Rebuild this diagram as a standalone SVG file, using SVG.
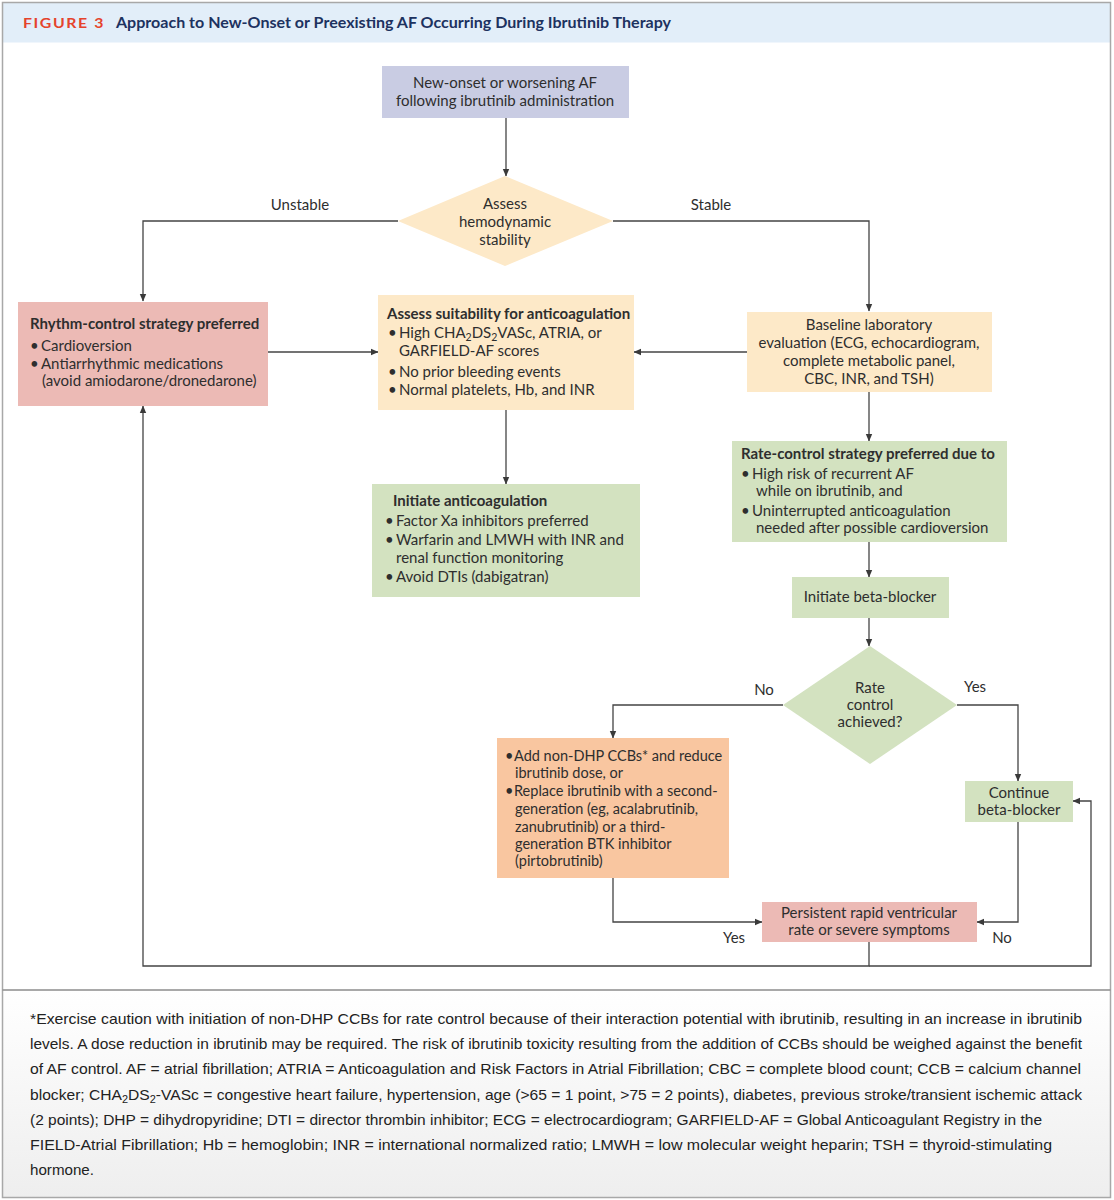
<svg xmlns="http://www.w3.org/2000/svg" width="1114" height="1200" viewBox="0 0 1114 1200">
<defs>
<marker id="arr" markerWidth="8" markerHeight="8" refX="7" refY="4" orient="auto" markerUnits="userSpaceOnUse">
<path d="M0,0.8 L7.5,4 L0,7.2 Z" fill="#3a3a3a"/>
</marker>
<linearGradient id="foot" x1="0" y1="0" x2="0" y2="1">
<stop offset="0" stop-color="#ffffff"/>
<stop offset="1" stop-color="#eeeeee"/>
</linearGradient>
<style>
.t{font-family:Lato,"Liberation Sans",sans-serif;font-size:15px;fill:#2e2e2e}
.s{font-size:14.5px}
.c{text-anchor:middle}
.b{font-weight:bold}
.lbl{font-family:Lato,"Liberation Sans",sans-serif;font-size:15px;fill:#2e2e2e;text-anchor:middle}
.fn{font-family:"Liberation Sans",sans-serif;font-size:15px;fill:#222}
.la{fill:none;stroke:#444;stroke-width:1.3;marker-end:url(#arr)}
.blue{fill:#c9cce3}
.peach{fill:#fde9c8}
.pink{fill:#ecbab5}
.green{fill:#d3e2c0}
.orange{fill:#f9c6a0}
</style>
</defs>
<rect x="0" y="0" width="1114" height="1200" fill="#ffffff"/>
<rect x="2.5" y="2.5" width="1108" height="40" fill="#e2eef9"/>
<rect x="2.5" y="990" width="1108" height="207" fill="url(#foot)"/>
<rect x="2.5" y="2.5" width="1108" height="1195" fill="none" stroke="#a8a8a8" stroke-width="1.5"/>
<line x1="2.5" y1="990" x2="1110.5" y2="990" stroke="#8c8c8c" stroke-width="1.3"/>
<g id="header">
<text x="23" y="28" font-family="Lato,'Liberation Sans',sans-serif" font-size="13" font-weight="bold" fill="#e5432c" letter-spacing="1.3" textLength="82" lengthAdjust="spacingAndGlyphs">FIGURE 3</text>
<text x="116" y="28" font-family="Lato,'Liberation Sans',sans-serif" font-size="14.5" font-weight="bold" fill="#1d3260" textLength="555" lengthAdjust="spacingAndGlyphs">Approach to New-Onset or Preexisting AF Occurring During Ibrutinib Therapy</text>
</g>

<g id="connectors">
<line class="la" x1="506" y1="118" x2="506" y2="176"/>
<polyline class="la" points="398,221 143,221 143,301"/>
<polyline class="la" points="613,221 869,221 869,311"/>
<line class="la" x1="268" y1="352" x2="378" y2="352"/>
<line class="la" x1="747" y1="352" x2="634" y2="352"/>
<line class="la" x1="506" y1="410" x2="506" y2="484"/>
<line class="la" x1="869" y1="392" x2="869" y2="441"/>
<line class="la" x1="869" y1="542" x2="869" y2="577"/>
<line class="la" x1="869" y1="618" x2="869" y2="646"/>
<polyline class="la" points="783,705 613,705 613,738"/>
<polyline class="la" points="957,705 1018,705 1018,781"/>
<polyline class="la" points="613,878 613,922 762,922"/>
<polyline class="la" points="1018,822 1018,922 977,922"/>
<polyline class="la" points="869,942 869,966 143,966 143,406"/>
<polyline class="la" points="869,966 1091,966 1091,801 1073,801"/>
<text class="lbl" x="300" y="210">Unstable</text>
<text class="lbl" x="711" y="210">Stable</text>
<text class="lbl" x="764" y="695">No</text>
<text class="lbl" x="975" y="692">Yes</text>
<text class="lbl" x="734" y="943">Yes</text>
<text class="lbl" x="1002" y="943">No</text>
</g>

<g id="start">
<rect class="blue" x="382" y="66" width="247" height="52"/>
<text class="t c" x="505" y="88">New-onset or worsening AF</text>
<text class="t c" x="505" y="106">following ibrutinib administration</text>
</g>

<g id="assess-stability">
<polygon class="peach" points="505,176 613,221 505,266 398,221"/>
<text class="t c" x="505" y="209">Assess</text>
<text class="t c" x="505" y="227">hemodynamic</text>
<text class="t c" x="505" y="245">stability</text>
</g>

<g id="rhythm-control">
<rect class="pink" x="18" y="302" width="250" height="104"/>
<text class="t b" x="30" y="329">Rhythm-control strategy preferred</text>
<text class="t" x="30" y="351">•</text><text class="t" x="41" y="351">Cardioversion</text>
<text class="t" x="30" y="369">•</text><text class="t" x="41" y="369">Antiarrhythmic medications</text>
<text class="t" x="42" y="386">(avoid amiodarone/dronedarone)</text>
</g>

<g id="assess-anticoag">
<rect class="peach" x="378" y="295" width="256" height="115"/>
<text class="t b" x="387" y="319">Assess suitability for anticoagulation</text>
<text class="t" x="388" y="338">•</text><text class="t" x="399" y="338">High CHA<tspan font-size="10.5" dy="3">2</tspan><tspan dy="-3">DS</tspan><tspan font-size="10.5" dy="3">2</tspan><tspan dy="-3">VASc, ATRIA, or</tspan></text>
<text class="t" x="399" y="356">GARFIELD-AF scores</text>
<text class="t" x="388" y="377">•</text><text class="t" x="399" y="377">No prior bleeding events</text>
<text class="t" x="388" y="395">•</text><text class="t" x="399" y="395">Normal platelets, Hb, and INR</text>
</g>

<g id="baseline-lab">
<rect class="peach" x="747" y="312" width="245" height="80"/>
<text class="t c" x="869" y="330">Baseline laboratory</text>
<text class="t c" x="869" y="348">evaluation (ECG, echocardiogram,</text>
<text class="t c" x="869" y="366">complete metabolic panel,</text>
<text class="t c" x="869" y="384">CBC, INR, and TSH)</text>
</g>

<g id="initiate-anticoag">
<rect class="green" x="372" y="484" width="268" height="113"/>
<text class="t b" x="393" y="506">Initiate anticoagulation</text>
<text class="t" x="385" y="526">•</text><text class="t" x="396" y="526">Factor Xa inhibitors preferred</text>
<text class="t" x="385" y="545">•</text><text class="t" x="396" y="545">Warfarin and LMWH with INR and</text>
<text class="t" x="396" y="563">renal function monitoring</text>
<text class="t" x="385" y="582">•</text><text class="t" x="396" y="582">Avoid DTIs (dabigatran)</text>
</g>

<g id="rate-control">
<rect class="green" x="732" y="441" width="275" height="101"/>
<text class="t b" x="741" y="459">Rate-control strategy preferred due to</text>
<text class="t" x="741" y="479">•</text><text class="t" x="752" y="479">High risk of recurrent AF</text>
<text class="t" x="756" y="496">while on ibrutinib, and</text>
<text class="t" x="741" y="516">•</text><text class="t" x="752" y="516">Uninterrupted anticoagulation</text>
<text class="t" x="756" y="533">needed after possible cardioversion</text>
</g>

<g id="beta-blocker">
<rect class="green" x="792" y="577" width="157" height="41"/>
<text class="t c" x="870" y="602">Initiate beta-blocker</text>
</g>

<g id="rate-achieved">
<polygon class="green" points="870,646 957,705 870,764 783,705"/>
<text class="t c" x="870" y="693">Rate</text>
<text class="t c" x="870" y="710">control</text>
<text class="t c" x="870" y="727">achieved?</text>
</g>

<g id="add-ccb">
<rect class="orange" x="497" y="738" width="232" height="140"/>
<text class="t s" x="505" y="761">•</text><text class="t s" x="514" y="761">Add non-DHP CCBs* and reduce</text>
<text class="t s" x="515" y="778">ibrutinib dose, or</text>
<text class="t s" x="505" y="796">•</text><text class="t s" x="514" y="796">Replace ibrutinib with a second-</text>
<text class="t s" x="515" y="814">generation (eg, acalabrutinib,</text>
<text class="t s" x="515" y="832">zanubrutinib) or a third-</text>
<text class="t s" x="515" y="849">generation BTK inhibitor</text>
<text class="t s" x="515" y="866">(pirtobrutinib)</text>
</g>

<g id="continue-bb">
<rect class="green" x="965" y="781" width="108" height="41"/>
<text class="t c" x="1019" y="798">Continue</text>
<text class="t c" x="1019" y="815">beta-blocker</text>
</g>

<g id="persistent">
<rect class="pink" x="762" y="902" width="215" height="40"/>
<text class="t c" x="869" y="918">Persistent rapid ventricular</text>
<text class="t c" x="869" y="935">rate or severe symptoms</text>
</g>

<g id="footnote">
<text class="fn" x="30" y="1024" textLength="1052" lengthAdjust="spacingAndGlyphs">*Exercise caution with initiation of non-DHP CCBs for rate control because of their interaction potential with ibrutinib, resulting in an increase in ibrutinib</text>
<text class="fn" x="30" y="1049" textLength="1052" lengthAdjust="spacingAndGlyphs">levels. A dose reduction in ibrutinib may be required. The risk of ibrutinib toxicity resulting from the addition of CCBs should be weighed against the benefit</text>
<text class="fn" x="30" y="1074" textLength="1051" lengthAdjust="spacingAndGlyphs">of AF control. AF = atrial fibrillation; ATRIA = Anticoagulation and Risk Factors in Atrial Fibrillation; CBC = complete blood count; CCB = calcium channel</text>
<text class="fn" x="30" y="1100" textLength="1052" lengthAdjust="spacingAndGlyphs">blocker; CHA<tspan font-size="10.5" dy="3">2</tspan><tspan dy="-3">DS</tspan><tspan font-size="10.5" dy="3">2</tspan><tspan dy="-3">-VASc = congestive heart failure, hypertension, age (&gt;65 = 1 point, &gt;75 = 2 points), diabetes, previous stroke/transient ischemic attack</tspan></text>
<text class="fn" x="30" y="1125" textLength="1012" lengthAdjust="spacingAndGlyphs">(2 points); DHP = dihydropyridine; DTI = director thrombin inhibitor; ECG = electrocardiogram; GARFIELD-AF = Global Anticoagulant Registry in the</text>
<text class="fn" x="30" y="1150" textLength="1022" lengthAdjust="spacingAndGlyphs">FIELD-Atrial Fibrillation; Hb = hemoglobin; INR = international normalized ratio; LMWH = low molecular weight heparin; TSH = thyroid-stimulating</text>
<text class="fn" x="30" y="1175" textLength="64" lengthAdjust="spacingAndGlyphs">hormone.</text>
</g>
</svg>
